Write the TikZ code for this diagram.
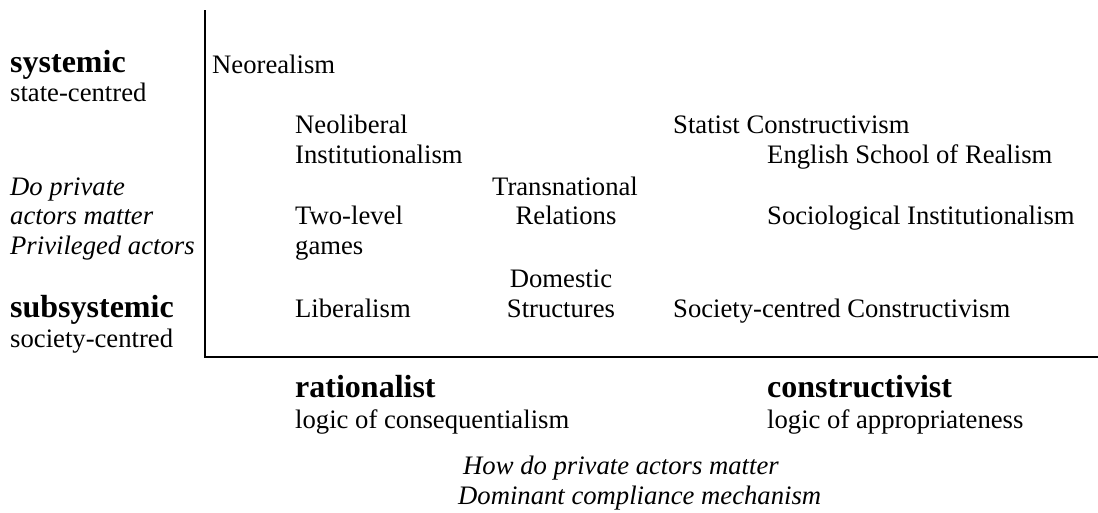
\documentclass[tikz,border=0pt]{standalone}
\usepackage{fontspec}
\setmainfont{Liberation Serif}
\begin{document}
\begin{tikzpicture}[x=1pt,y=-1pt,
  lbl/.style={anchor=base west, inner sep=0pt, font=\fontsize{26.67}{30}\selectfont},
  ctr/.style={lbl, anchor=base},
  hdr/.style={anchor=base west, inner sep=0pt, font=\fontsize{32}{36}\selectfont\bfseries},
  q/.style={anchor=base west, inner sep=0pt, font=\fontsize{26.67}{30}\selectfont\itshape},
  axisline/.style={line width=1.6pt}]
\useasboundingbox (0,0) rectangle (1098,512);
% axes
\coordinate (top) at (205,10);
\coordinate (origin) at (205,357);
\coordinate (right) at (1098,357);
\draw[axisline] (top) -- (origin) -- (right);
% left column
\node[hdr] (sys) at (10,72) {systemic};
\node[lbl] (sysb) at (10,101) {state-centred};
\node[q] (q1) at (10,195) {Do private};
\node[q] (q2) at (10,224) {actors matter};
\node[q] (q3) at (10,254) {Privileged actors};
\node[hdr] (sub) at (10,317) {subsystemic};
\node[lbl] (subb) at (10,347) {society-centred};
% content
\node[lbl] (neoreal) at (212,73) {Neorealism};
\node[lbl] (neolib1) at (295,133) {Neoliberal};
\node[lbl] (neolib2) at (295,163) {Institutionalism};
\node[lbl] (statist) at (673,133) {Statist Constructivism};
\node[lbl] (english) at (767,163) {English School of Realism};
\node[ctr] (trans1) at (565,195) {Transnational};
\node[ctr] (trans2) at (566,224) {Relations};
\node[lbl] (two1) at (295,224) {Two-level};
\node[lbl] (two2) at (295,254) {games};
\node[lbl] (socio) at (767,224) {Sociological Institutionalism};
\node[ctr] (dom1) at (561,287) {Domestic};
\node[ctr] (dom2) at (561,317) {Structures};
\node[lbl] (liberal) at (295,317) {Liberalism};
\node[lbl] (society) at (673,317) {Society-centred Constructivism};
% bottom
\node[hdr] (rat) at (295,397) {rationalist};
\node[lbl] (ratb) at (295,428) {logic of consequentialism};
\node[hdr] (con) at (767,397) {constructivist};
\node[lbl] (conb) at (767,428) {logic of appropriateness};
\node[q] (h1) at (463,474) {How do private actors matter};
\node[q] (h2) at (458,504) {Dominant compliance mechanism};
\end{tikzpicture}
\end{document}
